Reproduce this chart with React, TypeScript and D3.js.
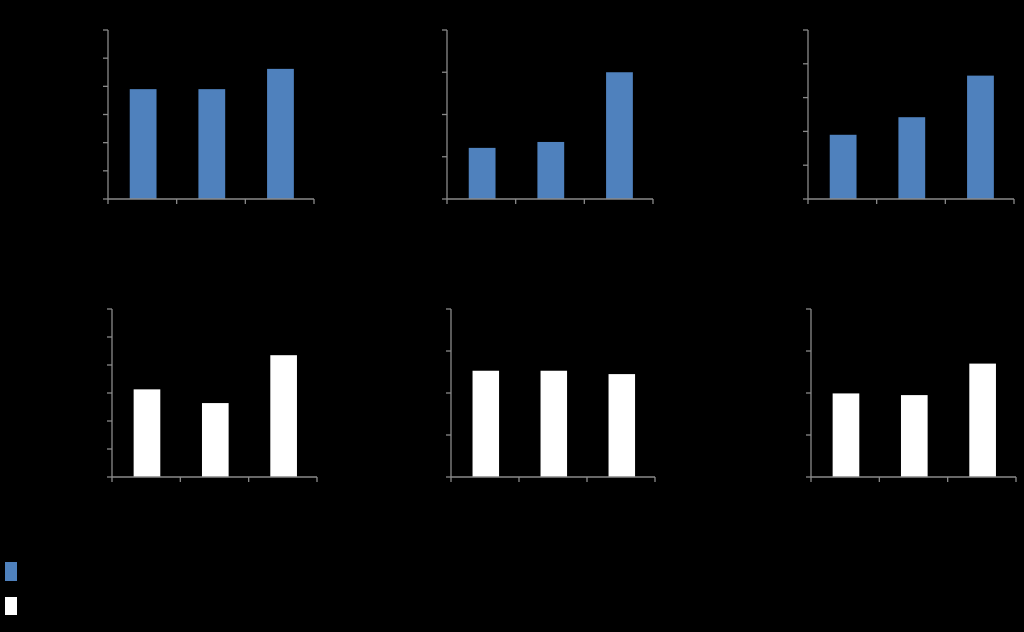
import React from "react";
import * as d3 from "d3";

// ---- data ----
const categories = ["1", "2", "3"];
const panel1Values = [3.9, 3.9, 4.62];
const panel2Values = [1.21, 1.35, 3.0];
const panel3Values = [1.9, 2.42, 3.65];
const panel4Values = [3.13, 2.64, 4.35];
const panel5Values = [2.53, 2.53, 2.45];
const panel6Values = [1.99, 1.95, 2.7];
const panel1Max = 6;
const panel2Max = 4;
const panel3Max = 5;
const panel4Max = 6;
const panel5Max = 4;
const panel6Max = 4;

// ---- layout / style ----
const W = 1024;
const H = 632;
const BLUE = "#4f81bd";
const WHITE = "#ffffff";
const AXIS = "#8a8a8a";

type Panel = {
  values: number[];
  max: number;
  x0: number;
  x1: number;
  y0: number;
  y1: number;
  fill: string;
};

const panels: Panel[] = [
  { values: panel1Values, max: panel1Max, x0: 108, x1: 314, y0: 30, y1: 199, fill: BLUE },
  { values: panel2Values, max: panel2Max, x0: 447, x1: 653, y0: 30, y1: 199, fill: BLUE },
  { values: panel3Values, max: panel3Max, x0: 808, x1: 1014, y0: 30, y1: 199, fill: BLUE },
  { values: panel4Values, max: panel4Max, x0: 112, x1: 317, y0: 309, y1: 477, fill: WHITE },
  { values: panel5Values, max: panel5Max, x0: 451, x1: 655, y0: 309, y1: 477, fill: WHITE },
  { values: panel6Values, max: panel6Max, x0: 811, x1: 1016, y0: 309, y1: 477, fill: WHITE },
];

function BarPanel({ p }: { p: Panel }) {
  const x = d3
    .scaleBand<string>()
    .domain(categories)
    .range([p.x0, p.x1])
    .paddingInner(0.61)
    .paddingOuter(0.305);
  const y = d3.scaleLinear().domain([0, p.max]).range([p.y1, p.y0]);
  const yTicks = d3.range(0, p.max + 1, 1);
  const catEdges = d3
    .range(0, categories.length + 1)
    .map((i) => p.x0 + i * ((p.x1 - p.x0) / categories.length));
  return (
    <g>
      {p.values.map((v, i) => (
        <rect
          key={i}
          x={x(categories[i])! + 0.8}
          y={y(v)}
          width={x.bandwidth()}
          height={y(0) - y(v)}
          fill={p.fill}
        />
      ))}
      <line x1={p.x0} x2={p.x0} y1={p.y0} y2={p.y1} stroke={AXIS} strokeWidth={1.3} />
      {yTicks.map((t) => (
        <line key={t} x1={p.x0 - 5} x2={p.x0} y1={y(t)} y2={y(t)} stroke={AXIS} strokeWidth={1.3} />
      ))}
      <line x1={p.x0} x2={p.x1} y1={p.y1} y2={p.y1} stroke={AXIS} strokeWidth={1.3} />
      {catEdges.map((cx, i) => (
        <line key={i} x1={cx} x2={cx} y1={p.y1} y2={p.y1 + 5} stroke={AXIS} strokeWidth={1.3} />
      ))}
    </g>
  );
}

export default function App() {
  return (
    <div style={{ position: "fixed", left: 0, top: 0, width: W, height: H, background: "#000" }}>
      <svg width={W} height={H} style={{ display: "block" }}>
        <rect x={0} y={0} width={W} height={H} fill="#000" />
        {panels.map((p, i) => (
          <BarPanel key={i} p={p} />
        ))}
        <g>
          <rect x={5} y={562} width={12} height={19} fill={BLUE} />
          <rect x={5} y={597} width={12} height={18} fill={WHITE} />
        </g>
      </svg>
    </div>
  );
}
